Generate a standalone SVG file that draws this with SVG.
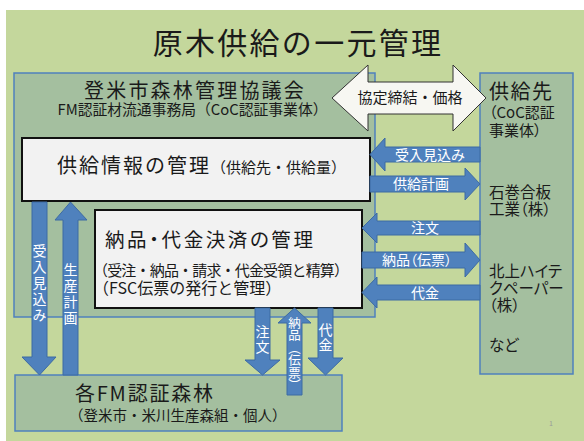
<svg xmlns="http://www.w3.org/2000/svg" width="584" height="441" viewBox="0 0 584 441">
<style>
text{font-family:"Noto Sans CJK JP","Noto Sans CJK SC",sans-serif;fill:#1a1a1a}
.p{font-feature-settings:"palt"}
.gbox{fill:#a4bf9f;stroke:#4f81bd;stroke-width:1.5}
.wbox{fill:#f2f2f2;stroke:#111;stroke-width:2}
.arr{fill:#4f81bd;stroke:#3d6ba3;stroke-width:1}
.dbl{fill:#f7f7f2;stroke:#333;stroke-width:1}
text.lbl{fill:#fff;font-size:14px}
text.vl{fill:#fff;writing-mode:vertical-rl;text-anchor:middle}
</style>
<rect x="0" y="0" width="584" height="441" fill="#fff"/>
<rect x="6" y="10" width="578" height="431" fill="#c4d79c"/>
<text x="298" y="54" font-size="30" letter-spacing="2.3" text-anchor="middle">原木供給の一元管理</text>

<g id="council">
<rect class="gbox" x="14" y="73" width="361" height="244"/>
<text x="195" y="98" font-size="20" letter-spacing="2.2" text-anchor="middle">登米市森林管理協議会</text>
<text x="192.5" y="115" font-size="14.8" text-anchor="middle">FM認証材流通事務局（CoC認証事業体）</text>
</g>

<g id="supplier">
<rect class="gbox" x="480" y="73" width="93" height="301"/>
<text x="489" y="99" font-size="20" letter-spacing="1.5">供給先</text>
<text class="p" x="489" y="118" font-size="15">（CoC認証</text>
<text class="p" x="489" y="136" font-size="15">事業体）</text>
<text class="p" x="489" y="198" font-size="15.5">石巻合板</text>
<text class="p" x="489" y="215" font-size="15.5">工業（株）</text>
<text class="p" x="489" y="277" font-size="15.5">北上ハイテ</text>
<text class="p" x="489" y="294" font-size="15.5">クペーパー</text>
<text class="p" x="489" y="311" font-size="15.5">（株）</text>
<text class="p" x="489" y="351" font-size="15.5">など</text>
</g>

<g id="forest">
<rect class="gbox" x="15" y="375" width="327" height="56"/>
<text x="75" y="401" font-size="20" textLength="138" lengthAdjust="spacing">各FM認証森林</text>
<text x="69" y="421" font-size="14.5">（登米市・米川生産森組・個人）</text>
</g>

<g id="supply-info">
<rect class="wbox" x="22" y="138" width="348" height="63"/>
<text x="57" y="173" font-size="20" letter-spacing="2">供給情報の管理<tspan font-size="15" letter-spacing="0">（供給先・供給量）</tspan></text>
</g>

<g id="settlement">
<rect class="wbox" x="95" y="210" width="267" height="98"/>
<text class="p" x="105" y="247" font-size="19.5" letter-spacing="2.6">納品・代金決済の管理</text>
<text x="93" y="276" font-size="15" textLength="256" lengthAdjust="spacing">（受注・納品・請求・代金受領と精算）</text>
<text x="93" y="294" font-size="16">（FSC伝票の発行と管理）</text>
</g>

<g id="connectors">
<g id="agreement">
<polygon class="dbl" points="332,98 368,65 368,82 453,82 453,65 486,98 453,131 453,114 368,114 368,131"/>
<text x="410" y="103" font-size="15" text-anchor="middle">協定締結・価格</text>
</g>
<polygon class="arr" points="370,154.5 385,138 385,147 480,147 480,162 385,162 385,171"/>
<text class="lbl" x="430" y="160" text-anchor="middle">受入見込み</text>
<polygon class="arr" points="370,176 465,176 465,168 480,184 465,200 465,192 370,192"/>
<text class="lbl" x="421" y="189" text-anchor="middle">供給計画</text>
<polygon class="arr" points="362,228 377,213 377,221 480,221 480,235 377,235 377,243"/>
<text class="lbl" x="425" y="233" text-anchor="middle">注文</text>
<polygon class="arr" points="362,252 465,252 465,243 480,260 465,277 465,268 362,268"/>
<text class="lbl p" x="417" y="265" text-anchor="middle">納品（伝票）</text>
<polygon class="arr" points="362,292.5 377,277 377,285 480,285 480,300 377,300 377,308"/>
<text class="lbl" x="425" y="298" text-anchor="middle">代金</text>

<polygon class="arr" points="32,202 47,202 47,357 56,357 39.5,375 22,357 32,357"/>
<text class="vl" x="39.5" y="284" font-size="14" letter-spacing="2">受入見込み</text>
<polygon class="arr" points="63,375 78,375 78,220 87,220 70.5,202 55,220 63,220"/>
<text class="vl" x="70.5" y="295" font-size="14" letter-spacing="2">生産計画</text>

<polygon class="arr" points="255,308 270,308 270,360 280,360 262.5,375 245,360 255,360"/>
<text class="vl" x="262.5" y="340" font-size="14" letter-spacing="1">注文</text>
<polygon class="arr" points="287,395 302,395 302,323 311,323 294.5,308 278,323 287,323"/>
<text class="vl" x="294.5" y="354" font-size="12.5">納品（伝票）</text>
<polygon class="arr" points="318,308 333,308 333,358 343,358 325.5,375 308,358 318,358"/>
<text class="vl" x="325.5" y="338" font-size="14" letter-spacing="1">代金</text>
</g>
<text x="549" y="426" font-size="7" style="fill:#9a9a9a">1</text>
</svg>
